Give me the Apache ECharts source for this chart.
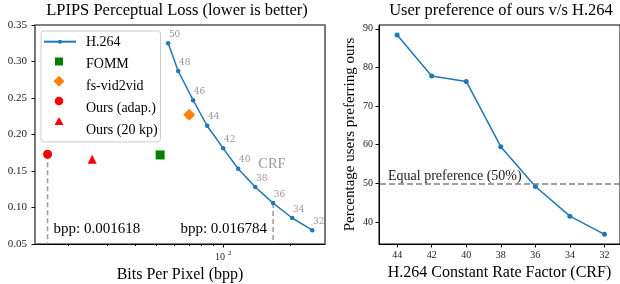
<!DOCTYPE html>
<html>
<head>
<meta charset="utf-8">
<script src="https://cdn.jsdelivr.net/npm/echarts@6/dist/echarts.min.js"></script>
<style>
  html, body { margin: 0; padding: 0; background: #fff; }
  #chart { width: 620px; height: 284px; }
</style>
</head>
<body>
<div id="chart"></div>
<script>
// left panel: LPIPS vs bpp (x values are bpp * 1e4)
const crfLabels = [50, 48, 46, 44, 42, 40, 38, 36, 34, 32];
const h264Bpp = [56.5, 62.7, 73.2, 84.7, 100, 116.8, 139.4, 167.84, 204.6, 251.8];
const h264Lpips = [0.325, 0.287, 0.247, 0.212, 0.181, 0.153, 0.128, 0.106, 0.0856, 0.069];
const fommPoint = [52.0, 0.172];
const fsVid2vidPoint = [70.3, 0.227];
const oursAdapPoint = [16.18, 0.173];
const ours20kpPoint = [25.7, 0.166];
const bppMinorTicks = [20, 30, 40, 50, 60, 70, 80, 90, 200];
const bppMajorTicks = [100];

// right panel: user preference vs CRF
const prefCrf = [44, 42, 40, 38, 36, 34, 32];
const prefPct = [88.4, 77.8, 76.4, 59.5, 49.2, 41.5, 36.8];
const prefTicks = [40, 50, 60, 70, 80, 90];
const equalLine = 50;

const SERIF = "'Liberation Serif', 'DejaVu Serif', serif";
const BLUE = '#1f77b4';

const chart = echarts.init(document.getElementById('chart'), null, { renderer: 'canvas' });

const h264Data = h264Bpp.map((x, i) => [x, h264Lpips[i]]);
const lowY = 0.05;

// legend: one box with the texts, plus one icon-only legend per entry
const legendNames = ['H.264', 'FOMM', 'fs-vid2vid', 'Ours (adap.)', 'Ours (20 kp)'];
const legendIconSize = [[32, 5], [8, 8], [11, 11], [8.5, 8.5], [9, 8]];
const legendRowY = [41.7, 61.5, 81.3, 101.1, 120.9];
const legendIconX = 59;

const iconLegends = legendNames.map((n, i) => ({
  data: [n],
  left: legendIconX - legendIconSize[i][0] / 2,
  top: legendRowY[i] - legendIconSize[i][1] / 2,
  padding: 0,
  itemWidth: legendIconSize[i][0], itemHeight: legendIconSize[i][1],
  formatter: () => '',
  selectedMode: false,
  textStyle: { fontSize: 1 }
}));

const option = {
  animation: false,
  textStyle: { fontFamily: SERIF },
  title: [
    {
      text: 'LPIPS Perceptual Loss (lower is better)',
      left: 177, top: 2, textAlign: 'center', padding: 0,
      textStyle: { fontFamily: SERIF, fontSize: 16.5, fontWeight: 'normal', color: '#000' }
    },
    {
      text: 'User preference of ours v/s H.264',
      left: 501, top: 2, textAlign: 'center', padding: 0,
      textStyle: { fontFamily: SERIF, fontSize: 16.5, fontWeight: 'normal', color: '#000' }
    }
  ],
  legend: [
    {
      orient: 'vertical',
      left: 41, top: 31,
      padding: [4.7, 3, 5, 2],
      itemWidth: 32, itemHeight: 12, itemGap: 7.8,
      backgroundColor: '#fff',
      borderColor: '#ccc', borderWidth: 1, borderRadius: 3,
      itemStyle: { opacity: 0 }, lineStyle: { opacity: 0 },
      selectedMode: false,
      textStyle: { fontFamily: SERIF, fontSize: 14, color: '#000', padding: [0, 0, 0, 5] },
      data: legendNames
    }
  ].concat(iconLegends),
  grid: [
    { left: 35, top: 25, right: 295, bottom: 40, outerBoundsMode: 'none',
      show: true, borderColor: '#000', borderWidth: 1 },
    { left: 379, top: 25, right: 0, bottom: 40, outerBoundsMode: 'none',
      show: true, borderColor: '#000', borderWidth: 1 }
  ],
  xAxis: [
    {
      gridIndex: 0, type: 'log', logBase: 10, min: 14.2, max: 287.5, position: 'bottom',
      axisLine: { lineStyle: { color: '#000', width: 1 } },
      axisTick: { customValues: bppMinorTicks, length: 2, lineStyle: { color: '#000' } },
      axisLabel: { show: false },
      splitLine: { show: false }, minorTick: { show: false }
    },
    {
      gridIndex: 0, type: 'log', logBase: 10, min: 14.2, max: 287.5, position: 'bottom',
      axisLine: { show: false },
      axisTick: { customValues: bppMajorTicks, length: 3.5, lineStyle: { color: '#000' } },
      axisLabel: {
        customValues: bppMajorTicks, margin: 6,
        formatter: v => '{a|10}{b|' + Math.round(Math.log10(v)) + '}',
        rich: {
          a: { fontFamily: SERIF, fontSize: 10, color: '#222' },
          b: { fontFamily: SERIF, fontSize: 7, color: '#222', padding: [0, 0, 7, 3] }
        }
      },
      splitLine: { show: false },
      name: 'Bits Per Pixel (bpp)', nameLocation: 'middle', nameGap: 20,
      nameTextStyle: { fontFamily: SERIF, fontSize: 16, color: '#000' }
    },
    {
      gridIndex: 1, type: 'value', inverse: true, min: 31.1, max: 45.05, position: 'bottom',
      axisLine: { lineStyle: { color: '#000', width: 1 } },
      axisTick: { customValues: prefCrf, length: 3.5, lineStyle: { color: '#000' } },
      axisLabel: { customValues: prefCrf, margin: 6, fontFamily: SERIF, fontSize: 10, color: '#222' },
      splitLine: { show: false },
      name: 'H.264 Constant Rate Factor (CRF)', nameLocation: 'middle', nameGap: 15,
      nameTextStyle: { fontFamily: SERIF, fontSize: 16, color: '#000' }
    }
  ],
  yAxis: [
    {
      gridIndex: 0, type: 'value', min: 0.05, max: 0.35, interval: 0.05, position: 'left',
      axisLine: { show: true, lineStyle: { color: '#777', width: 2 } },
      axisTick: { show: true, length: 3.5, lineStyle: { color: '#000' } },
      axisLabel: { margin: 8, fontFamily: SERIF, fontSize: 11, color: '#222', formatter: v => v.toFixed(2) },
      splitLine: { show: false }
    },
    {
      gridIndex: 0, type: 'value', position: 'right', min: 0.05, max: 0.35,
      axisLine: { show: true, lineStyle: { color: '#777', width: 2 } },
      axisTick: { show: false }, axisLabel: { show: false }, splitLine: { show: false }
    },
    {
      gridIndex: 1, type: 'value', min: 34.3, max: 91, position: 'left',
      axisLine: { show: true, lineStyle: { color: '#000', width: 1 } },
      axisTick: { show: true, customValues: prefTicks, length: 3.5, lineStyle: { color: '#000' } },
      axisLabel: { customValues: prefTicks, margin: 6, fontFamily: SERIF, fontSize: 10, color: '#222' },
      splitLine: { show: false },
      name: 'Percentage users preferring ours', nameLocation: 'middle', nameGap: 21,
      nameTextStyle: { fontFamily: SERIF, fontSize: 15, color: '#000' }
    }
  ],
  series: [
    // dashed drop lines for the two bpp callouts
    {
      name: 'dropAdap', type: 'line', xAxisIndex: 0, yAxisIndex: 0, z: 1,
      data: [oursAdapPoint, [oursAdapPoint[0], lowY]],
      symbol: 'none', silent: true,
      lineStyle: { color: '#999', width: 1.5, type: [5, 3] },
      markPoint: {
        symbol: 'circle', symbolSize: 0,
        label: { show: true, position: 'right', distance: 6, formatter: 'bpp: 0.001618',
          fontFamily: SERIF, fontSize: 15, color: '#000' },
        data: [{ coord: [oursAdapPoint[0], 0.0705] }]
      }
    },
    {
      name: 'dropH264', type: 'line', xAxisIndex: 0, yAxisIndex: 0, z: 1,
      data: [h264Data[7], [h264Bpp[7], lowY]],
      symbol: 'none', silent: true,
      lineStyle: { color: '#999', width: 1.5, type: [5, 3] },
      markPoint: {
        symbol: 'circle', symbolSize: 0,
        label: { show: true, position: 'left', distance: 6, formatter: 'bpp: 0.016784',
          fontFamily: SERIF, fontSize: 15, color: '#000' },
        data: [{ coord: [h264Bpp[7], 0.0705] }]
      }
    },
    {
      name: 'H.264', type: 'line', xAxisIndex: 0, yAxisIndex: 0, z: 3,
      data: h264Data,
      symbol: 'circle', symbolSize: 4.5, showAllSymbol: true,
      itemStyle: { color: BLUE },
      lineStyle: { color: BLUE, width: 1.5 },
      label: {
        show: true, position: [3, -11], fontFamily: 'DejaVu Serif, serif', fontSize: 9, color: '#999',
        formatter: p => String(crfLabels[p.dataIndex])
      },
      markPoint: {
        symbol: 'circle', symbolSize: 0,
        label: { show: true, position: 'right', distance: 0, formatter: 'CRF',
          fontFamily: SERIF, fontSize: 14.5, color: '#999' },
        data: [{ coord: [143.8, 0.159] }]
      }
    },
    {
      name: 'FOMM', type: 'scatter', xAxisIndex: 0, yAxisIndex: 0, z: 4,
      data: [fommPoint], symbol: 'rect', symbolSize: 9, itemStyle: { color: '#008000', opacity: 1 }
    },
    {
      name: 'fs-vid2vid', type: 'scatter', xAxisIndex: 0, yAxisIndex: 0, z: 4,
      data: [fsVid2vidPoint], symbol: 'diamond', symbolSize: 12, itemStyle: { color: '#ff7f0e', opacity: 1 }
    },
    {
      name: 'Ours (adap.)', type: 'scatter', xAxisIndex: 0, yAxisIndex: 0, z: 4,
      data: [oursAdapPoint], symbol: 'circle', symbolSize: 9, itemStyle: { color: '#ff0000', opacity: 1 }
    },
    {
      name: 'Ours (20 kp)', type: 'scatter', xAxisIndex: 0, yAxisIndex: 0, z: 4,
      data: [ours20kpPoint], symbol: 'triangle', symbolSize: 9, itemStyle: { color: '#ff0000', opacity: 1 }
    },
    // right panel
    {
      name: 'pref', type: 'line', xAxisIndex: 2, yAxisIndex: 2, z: 3,
      data: prefCrf.map((c, i) => [c, prefPct[i]]),
      symbol: 'circle', symbolSize: 5,
      itemStyle: { color: BLUE },
      lineStyle: { color: BLUE, width: 1.5 },
      markLine: {
        silent: true, symbol: 'none', animation: false,
        lineStyle: { color: '#808080', width: 1.5, type: [6, 3] },
        label: { show: false },
        data: [{ yAxis: equalLine }]
      },
      markPoint: {
        symbol: 'circle', symbolSize: 0,
        label: { show: true, position: 'right', distance: 0, formatter: 'Equal preference (50%)',
          fontFamily: SERIF, fontSize: 14, color: '#222' },
        data: [{ coord: [44.53, 51.9] }]
      }
    }
  ]
};

chart.setOption(option);
</script>
</body>
</html>
